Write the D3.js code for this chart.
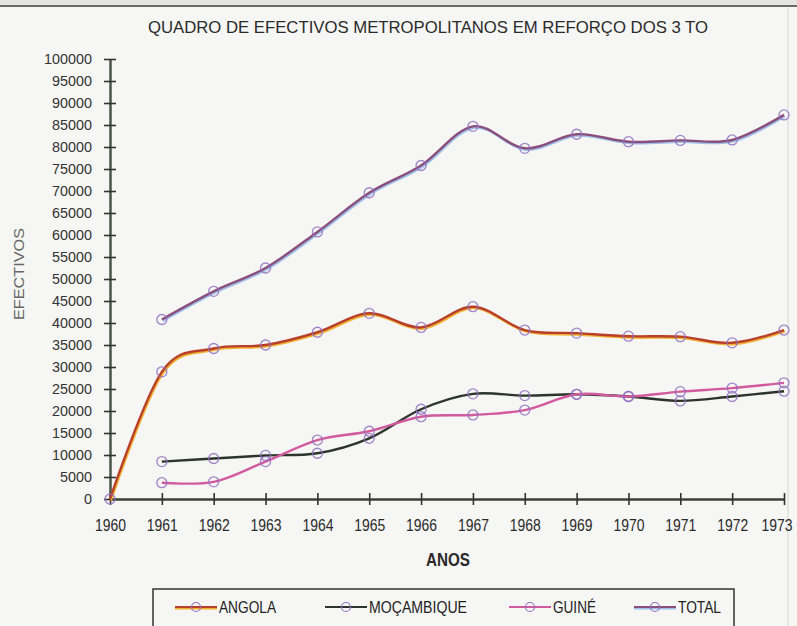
<!DOCTYPE html>
<html><head><meta charset="utf-8">
<script src="https://cdn.jsdelivr.net/npm/d3@7"></script>
<style>
html,body{margin:0;padding:0;background:#f6f6f4;}
svg{display:block;}
</style></head>
<body>
<svg id="chart" width="797" height="626"></svg>
<script>
const title = "QUADRO DE EFECTIVOS METROPOLITANOS EM REFORÇO DOS 3 TO";
const years = [1960,1961,1962,1963,1964,1965,1966,1967,1968,1969,1970,1971,1972,1973];
const angola     = [0, 28900, 34200, 35000, 37900, 42200, 39000, 43700, 38400, 37700, 37000, 36900, 35500, 38400];
const mocambique = [null, 8500, 9200, 9900, 10400, 13800, 20400, 23900, 23500, 23800, 23300, 22300, 23300, 24500];
const guine      = [null, 3700, 3900, 8500, 13400, 15400, 18700, 19100, 20200, 23800, 23300, 24400, 25200, 26400];
const total      = [null, 40800, 47200, 52500, 60700, 69600, 75800, 84700, 79700, 82900, 81200, 81500, 81600, 87300];
const yTicks = d3.range(0, 100001, 5000);
const seriesNames = ["ANGOLA","MOÇAMBIQUE","GUINÉ","TOTAL"];

const svg = d3.select("#chart");
const font = "'Liberation Sans Narrow','Arial Narrow','Liberation Sans',sans-serif";

// scan artefacts: top border and right edge
svg.append("rect").attr("x",0).attr("y",0).attr("width",797).attr("height",6).attr("fill","#e4e4e2");
svg.append("line").attr("x1",0).attr("x2",797).attr("y1",6).attr("y2",6).attr("stroke","#6a6a6a").attr("stroke-width",2);
svg.append("line").attr("x1",788).attr("x2",788).attr("y1",8).attr("y2",626).attr("stroke","#e6e6e4").attr("stroke-width",2);

const x = d3.scaleLinear().domain([1960,1973]).range([110,784]);
const y = d3.scaleLinear().domain([0,100000]).range([499,59]);

// title
svg.append("text").attr("x",428).attr("y",33).attr("text-anchor","middle")
  .attr("font-family",font).attr("font-size",17).attr("fill","#2a2a2a")
  .attr("textLength",560).attr("lengthAdjust","spacingAndGlyphs").text(title);

// y axis
const yAxis = svg.append("g").attr("transform","translate(110,0)")
  .call(d3.axisLeft(y).tickValues(yTicks).tickSize(0).tickPadding(18).tickFormat(d3.format("d")));
yAxis.select(".domain").attr("stroke","#4a5548").attr("stroke-width",2.5);
yAxis.selectAll(".tick text").attr("font-family",font).attr("font-size",15.5).attr("fill","#333")
  .attr("textLength",d=>String(d).length*8).attr("lengthAdjust","spacingAndGlyphs");
yAxis.selectAll(".tick").append("line").attr("x1",-6).attr("x2",6).attr("stroke","#333").attr("stroke-width",1.6);

// x axis
const xAxis = svg.append("g").attr("transform","translate(0,499)")
  .call(d3.axisBottom(x).tickValues(years).tickSize(0).tickPadding(21).tickFormat(d3.format("d")));
xAxis.select(".domain").attr("stroke","#3a4238").attr("stroke-width",2.5);
xAxis.selectAll(".tick text").attr("font-family",font).attr("font-size",16).attr("fill","#2a2a2a")
  .attr("textLength",31).attr("lengthAdjust","spacingAndGlyphs");
xAxis.selectAll(".tick").filter(d=>d===1973).select("text").attr("text-anchor","end").attr("x",8);
xAxis.selectAll(".tick").append("line").attr("y1",-6).attr("y2",6).attr("stroke","#333").attr("stroke-width",1.6);

// axis titles
svg.append("text").attr("x",448).attr("y",566).attr("text-anchor","middle")
  .attr("font-family",font).attr("font-size",18).attr("font-weight","bold").attr("fill","#2a2a2a")
  .attr("textLength",44).attr("lengthAdjust","spacingAndGlyphs").text("ANOS");
svg.append("text").attr("transform","translate(24,274) rotate(-90)").attr("text-anchor","middle")
  .attr("font-family","'Liberation Sans',Arial,sans-serif").attr("font-size",15).attr("fill","#666")
  .attr("textLength",92).attr("lengthAdjust","spacingAndGlyphs").text("EFECTIVOS");

// series
const series = [
  {name:seriesNames[0], values:angola, color:"#b8402a", shadow:"#f0b030", lw:57},
  {name:seriesNames[1], values:mocambique, color:"#2c352c", shadow:null, lw:98},
  {name:seriesNames[2], values:guine, color:"#d25a9e", shadow:null, lw:43},
  {name:seriesNames[3], values:total, color:"#8a4e7c", shadow:"#9ec0e8", lw:43}
];
const line = d3.line().defined(d=>d[1]!=null).x(d=>x(d[0])).y(d=>y(d[1])).curve(d3.curveCatmullRom.alpha(0));
series.forEach(s=>{
  const pts = years.map((yr,i)=>[yr,s.values[i]]);
  if (s.shadow) {
    svg.append("path").attr("d",line(pts)).attr("fill","none").attr("stroke",s.shadow)
      .attr("stroke-width",2.2).attr("transform","translate(1,1.5)");
  }
  svg.append("path").attr("d",line(pts)).attr("fill","none").attr("stroke",s.color).attr("stroke-width",2.4);
});
series.forEach(s=>{
  const pts = years.map((yr,i)=>[yr,s.values[i]]).filter(d=>d[1]!=null);
  svg.append("g").selectAll("circle").data(pts).join("circle")
    .attr("cx",d=>x(d[0])).attr("cy",d=>y(d[1])).attr("r",5)
    .attr("fill","none").attr("stroke","#9070c0").attr("stroke-width",1.3).attr("opacity",0.85);
});

// legend
const lg = svg.append("g");
lg.append("rect").attr("x",153).attr("y",589).attr("width",581).attr("height",45)
  .attr("fill","#f6f6f4").attr("stroke","#333").attr("stroke-width",1.5);
const legX = [175, 325, 509, 634];
series.forEach((s,i)=>{
  const g = lg.append("g").attr("transform",`translate(${legX[i]},607)`);
  if (s.shadow) g.append("line").attr("x1",0).attr("x2",42).attr("y1",1.5).attr("y2",1.5).attr("stroke",s.shadow).attr("stroke-width",2);
  g.append("line").attr("x1",0).attr("x2",42).attr("y1",0).attr("y2",0).attr("stroke",s.color).attr("stroke-width",2.2);
  g.append("circle").attr("cx",21).attr("cy",0).attr("r",4.5).attr("fill","none").attr("stroke","#9070c0").attr("stroke-width",1.2);
  g.append("text").attr("x",44).attr("y",6).attr("font-family",font).attr("font-size",16).attr("fill","#222")
    .attr("textLength",s.lw).attr("lengthAdjust","spacingAndGlyphs").text(s.name);
});
</script>
</body></html>
